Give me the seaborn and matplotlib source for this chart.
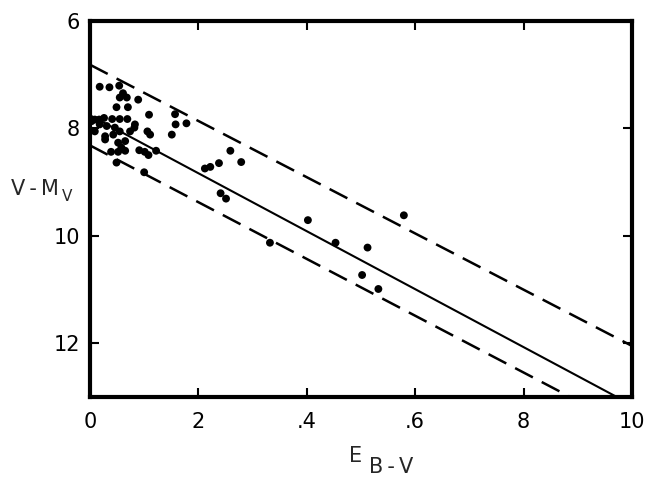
import matplotlib
matplotlib.use("Agg")
import matplotlib.pyplot as plt
import seaborn as sns
import numpy as np
import pandas as pd

# ── Data ───────────────────────────────────────────────────────────
e_bv = [0.018, 0.036, 0.054, 0.061, 0.055, 0.068, 0.089, 0.049, 0.070, 0.109,
        0.157, 0.158, 0.178, 0.151, 0.111, 0.083, 0.069, 0.055, 0.041, 0.026,
        0.009, 0.003, 0.018, 0.031, 0.046, 0.055, 0.074, 0.009, 0.028, 0.028,
        0.043, 0.052, 0.065, 0.058, 0.039, 0.052, 0.065, 0.091, 0.101, 0.108,
        0.122, 0.049, 0.100, 0.082, 0.106, 0.017,
        0.212, 0.222, 0.238, 0.259, 0.279, 0.241, 0.251,
        0.332, 0.402, 0.453, 0.512, 0.579, 0.502, 0.532]
v_mv = [7.23, 7.24, 7.21, 7.35, 7.43, 7.43, 7.47, 7.61, 7.61, 7.75,
        7.74, 7.93, 7.91, 8.12, 8.12, 7.93, 7.83, 7.83, 7.83, 7.81,
        7.84, 7.87, 7.93, 7.96, 7.99, 8.06, 8.06, 8.06, 8.15, 8.21,
        8.12, 8.27, 8.24, 8.36, 8.44, 8.44, 8.42, 8.41, 8.44, 8.50,
        8.42, 8.64, 8.82, 7.99, 8.06, 7.84,
        8.75, 8.72, 8.65, 8.42, 8.63, 9.21, 9.31,
        10.13, 9.71, 10.13, 10.22, 9.62, 10.73, 10.99]

line_e = [0.0, 1.0]
fit_mid = [7.76, 13.15]
fit_upper = [6.82, 12.05]
fit_lower = [8.32, 13.6]

x_ticks = [0, 0.2, 0.4, 0.6, 0.8, 1.0]
x_ticklabels = ["0", "2", ".4", ".6", "8", "10"]
y_ticks = [6, 8, 10, 12]
y_ticklabels = ["6", "8", "10", "12"]

pts = pd.DataFrame({"E": e_bv, "VM": v_mv})
lines = pd.DataFrame({"E": line_e * 3,
                      "VM": fit_mid + fit_upper + fit_lower,
                      "kind": ["mid"] * 2 + ["upper"] * 2 + ["lower"] * 2})

# ── Style ──────────────────────────────────────────────────────────
sns.set_style("ticks")
plt.rcParams.update({
    "font.family": ["DejaVu Sans"],
})

fig = plt.figure(figsize=(6.47, 4.79), dpi=100)
ax = fig.add_axes([0.139, 0.171, 0.838, 0.786])

sns.scatterplot(data=pts, x="E", y="VM", ax=ax, color="black", s=32,
                edgecolor="none", legend=False, zorder=3)

sns.lineplot(data=lines[lines.kind == "mid"], x="E", y="VM", ax=ax,
             color="black", linewidth=1.5, legend=False)
for k in ["upper", "lower"]:
    sns.lineplot(data=lines[lines.kind == k], x="E", y="VM", ax=ax,
                 color="black", linewidth=1.8, legend=False,
                 dashes=False).lines[-1].set_dashes((8, 4))

ax.set_xlim(0, 1.0)
ax.set_ylim(13, 6)

ax.set_xticks(x_ticks)
ax.set_xticklabels(x_ticklabels)
ax.set_yticks(y_ticks)
ax.set_yticklabels(y_ticklabels)
ax.tick_params(direction="in", length=6.5, width=1.5, labelsize=15,
               top=True, right=True, colors="black")
ax.tick_params(axis="x", pad=11)
ax.tick_params(axis="y", pad=7)

for sp in ax.spines.values():
    sp.set_linewidth(3)
    sp.set_color("black")

ax.set_xlabel("")
ax.set_ylabel("")

# axis titles (subscripts placed by hand, as in the original lettering)
fig.text(11 / 647, 1 - 189 / 479, "V\u2009-\u2009M", fontsize=15, ha="left", va="center")
fig.text(62 / 647, 1 - 196 / 479, "V", fontsize=11, ha="left", va="center")
fig.text(349 / 647, 1 - 456 / 479, "E", fontsize=15, ha="left", va="center")
fig.text(369 / 647, 1 - 467 / 479, "B\u2009-\u2009V", fontsize=15, ha="left", va="center")

fig.savefig("out.png", dpi=100, facecolor="white")
